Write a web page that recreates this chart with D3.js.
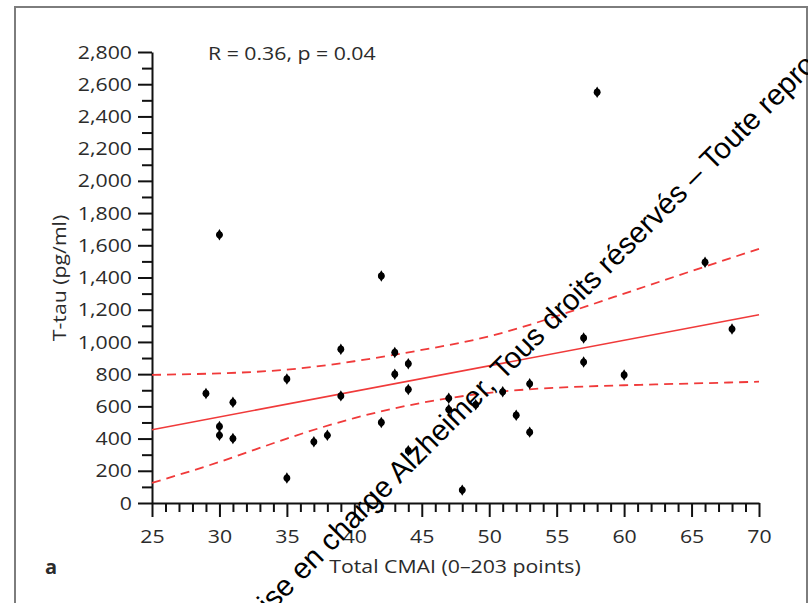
<!DOCTYPE html>
<html><head><meta charset="utf-8">
<script src="https://cdn.jsdelivr.net/npm/d3@7"></script>
<style>body{margin:0;background:#fff}svg{display:block}</style>
</head><body><svg id="c" width="808" height="603"></svg>
<script>
// ---- data ----
const cmai = [29,30,30,30,31,31,35,35,37,38,39,39,42,42,43,43,44,44,44,47,47,48,49,51,52,53,53,57,57,58,60,66,68];
const ttau = [680,1665,475,420,625,400,770,155,380,420,955,665,1410,500,935,800,865,705,325,650,580,80,610,690,545,740,440,1025,875,2550,795,1495,1080];
const fitX = [25,70];
const fitY = [455,1169];
const bandX = [25,30,35,40,45,50,55,60,65,70];
const bandUpper = [795,805,828,880,950,1035,1160,1300,1440,1578];
const bandLower = [125,255,400,527,622,684,716,731,742,753];
const xMajorTicks = [25,30,35,40,45,50,55,60,65,70];
const yMajorTicks = [0,200,400,600,800,1000,1200,1400,1600,1800,2000,2200,2400,2600,2800];
const statText = "R = 0.36, p = 0.04";
const xTitle = "Total CMAI (0–203 points)";
const yTitle = "T-tau (pg/ml)";
const panelLabel = "a";
const wmPrefix = "La Prise en charge ";
const wmText = "La Prise en charge Alzheimer, Tous droits réservés – Toute reproduction interdite";

// ---- layout ----
const svg = d3.select("#c");
const x = d3.scaleLinear().domain([25,70]).range([152,759]);
const y = d3.scaleLinear().domain([0,2800]).range([503,52]);
const FONT = "'Open Sans', 'Noto Sans', sans-serif";
const TXT = "#2b2b2b";
const SX = 1.12;

// frame
svg.append("rect").attr("x",15).attr("y",7).attr("width",792).attr("height",640)
  .attr("fill","none").attr("stroke","#7d7d7d").attr("stroke-width",2);

// y axis
const minorY = d3.range(0,2801,100).filter(v=>v%200!==0);
svg.append("g").attr("transform","translate(152,0)")
  .call(d3.axisLeft(y).tickValues(minorY).tickSize(10).tickFormat(""))
  .call(g=>g.select(".domain").remove())
  .selectAll("line").attr("stroke","#111").attr("stroke-width",2);
const gy = svg.append("g").attr("transform","translate(152,0)")
  .call(d3.axisLeft(y).tickValues(yMajorTicks).tickSize(14).tickSizeOuter(0).tickPadding(6).tickFormat(d3.format(",")));
gy.select(".domain").attr("stroke","#111").attr("stroke-width",2);
gy.selectAll("line").attr("stroke","#111").attr("stroke-width",2);
gy.selectAll("text").attr("font-family",FONT).attr("font-size",19).attr("fill",TXT)
  .attr("x",-20/SX).attr("transform",`scale(${SX},1)`);

// x axis
const minorX = d3.range(25,71,1).filter(v=>v%5!==0);
svg.append("g").attr("transform","translate(0,503)")
  .call(d3.axisBottom(x).tickValues(minorX).tickSize(9).tickFormat(""))
  .call(g=>g.select(".domain").remove())
  .selectAll("line").attr("stroke","#111").attr("stroke-width",2);
const gx = svg.append("g").attr("transform","translate(0,503)")
  .call(d3.axisBottom(x).tickValues(xMajorTicks).tickSize(14).tickSizeOuter(0).tickPadding(13));
gx.select(".domain").attr("stroke","#111").attr("stroke-width",2);
gx.selectAll("line").attr("stroke","#111").attr("stroke-width",2);
gx.selectAll("text").attr("font-family",FONT).attr("font-size",19).attr("fill",TXT)
  .attr("transform",`scale(${SX},1)`);

// titles
svg.append("text").attr("transform",`translate(455,573) scale(${SX},1)`).attr("text-anchor","middle")
  .attr("font-family",FONT).attr("font-size",19).attr("fill",TXT).text(xTitle);
svg.append("text").attr("transform",`translate(66,278) rotate(-90) scale(${SX},1)`).attr("text-anchor","middle")
  .attr("font-family",FONT).attr("font-size",19).attr("fill",TXT).text(yTitle);
svg.append("text").attr("transform",`translate(208,60) scale(${SX},1)`)
  .attr("font-family",FONT).attr("font-size",19).attr("fill",TXT).text(statText);
svg.append("text").attr("transform",`translate(45,574)`)
  .attr("font-family",FONT).attr("font-size",20).attr("font-weight","bold").attr("fill",TXT).text(panelLabel);

// regression line + CI
const fit = fitX.map((v,i)=>[v,fitY[i]]);
const line = d3.line().x(d=>x(d[0])).y(d=>y(d[1]));
const curve = d3.line().x(d=>x(d[0])).y(d=>y(d[1])).curve(d3.curveNatural);
svg.append("path").attr("d",line(fit)).attr("fill","none").attr("stroke","#f03a3a").attr("stroke-width",1.5);
[bandUpper,bandLower].forEach(arr=>{
  svg.append("path").attr("d",curve(bandX.map((v,i)=>[v,arr[i]])))
    .attr("fill","none").attr("stroke","#f03a3a").attr("stroke-width",1.8).attr("stroke-dasharray","9,6");
});

// points
const pts = svg.append("g");
cmai.forEach((v,i)=>{
  const cx = x(v), cy = y(ttau[i]);
  pts.append("circle").attr("cx",cx).attr("cy",cy).attr("r",3.4).attr("fill","#000");
  pts.append("path").attr("transform",`translate(${cx},${cy})`).attr("d",d3.symbol(d3.symbolDiamond,38)()).attr("fill","#000");
});

// watermark
const WMF = "'Liberation Sans', Arial, sans-serif", WMS = 29.5;
const tmp = svg.append("text").attr("font-family",WMF).attr("font-size",WMS).text(wmPrefix);
const pre = tmp.node().getComputedTextLength(); tmp.remove();
const ax = 395, ay = 489, c = Math.SQRT1_2;
svg.append("text").attr("transform",`translate(${ax-pre*c},${ay+pre*c}) rotate(-45)`)
  .attr("font-family",WMF).attr("font-size",WMS).attr("fill","#000").text(wmText);
</script></body></html>
